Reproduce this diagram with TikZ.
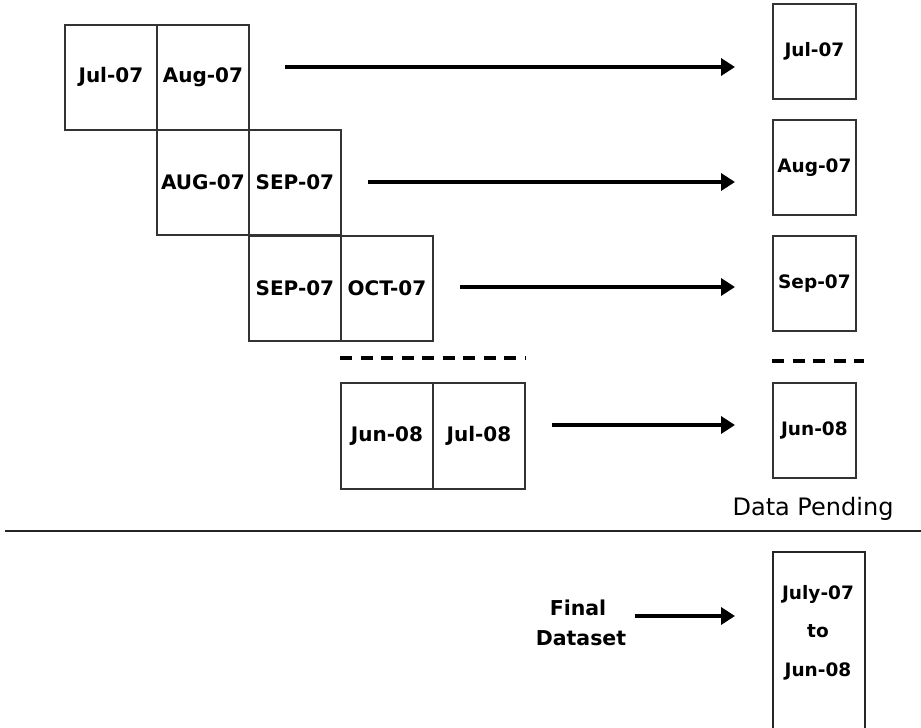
\documentclass[tikz,border=0pt]{standalone}
\usepackage{fontspec}
\setmainfont{DejaVu Sans}
\usetikzlibrary{arrows.meta}
\tikzset{
  cell/.style={draw=black!80, line width=1.8pt, minimum width=92pt, minimum height=105pt,
    inner sep=0pt, anchor=north west, font=\bfseries\fontsize{20}{24}\selectfont},
  outbox/.style={draw=black!80, line width=1.8pt, minimum width=83pt, minimum height=95pt,
    inner sep=0pt, anchor=north west, font=\bfseries\fontsize{18.5}{22}\selectfont},
  arr/.style={line width=3.6pt, -{Triangle[length=14pt,width=17pt]}},
  dashline/.style={line width=3.6pt, dash pattern=on 12pt off 8.5pt},
}
\begin{document}
\begin{tikzpicture}[x=1pt,y=-1pt]
\useasboundingbox (0,0) rectangle (921,728);
% left grid
\node[cell] (a1) at (64,24) {Jul-07};
\node[cell] (a2) at (156,24) {Aug-07};
\node[cell] (b1) at (156,129) {AUG-07};
\node[cell] (b2) at (248,129) {SEP-07};
\node[cell] (c1) at (248,235) {SEP-07};
\node[cell] (c2) at (340,235) {OCT-07};
\node[cell, minimum height=106pt] (d1) at (340,382) {Jun-08};
\node[cell, minimum height=106pt] (d2) at (432,382) {Jul-08};
% right boxes
\node[outbox] (r1) at (772,3) {Jul-07};
\node[outbox] (r2) at (772,119) {Aug-07};
\node[outbox] (r3) at (772,235) {Sep-07};
\node[outbox] (r4) at (772,382) {Jun-08};
% arrows
\coordinate (s1) at (285,67);  \coordinate (e1) at (735,67);
\coordinate (s2) at (368,182); \coordinate (e2) at (735,182);
\coordinate (s3) at (460,287); \coordinate (e3) at (735,287);
\coordinate (s4) at (552,425); \coordinate (e4) at (735,425);
\draw[arr] (s1) -- (e1);
\draw[arr] (s2) -- (e2);
\draw[arr] (s3) -- (e3);
\draw[arr] (s4) -- (e4);
% dashed lines
\coordinate (dl1) at (340,358); \coordinate (dl2) at (526,358);
\coordinate (dr1) at (772,361); \coordinate (dr2) at (864,361);
\draw[dashline] (dl1) -- (dl2);
\draw[dashline] (dr1) -- (dr2);
% data pending
\node[anchor=base, font=\fontsize{24}{28}\selectfont, inner sep=0pt] (dp) at (813,515) {Data Pending};
% separator
\coordinate (h1) at (5,531); \coordinate (h2) at (921,531);
\draw[line width=2.6pt, black!85] (h1) -- (h2);
% final
\node[draw=black!85, line width=1.8pt, minimum width=92pt, minimum height=200pt, inner sep=0pt, anchor=north west] (f) at (772,551) {};
\node[font=\bfseries\fontsize{18.5}{22}\selectfont, anchor=base, inner sep=0pt] (f1) at (818,599) {July-07};
\node[font=\bfseries\fontsize{18.5}{22}\selectfont, anchor=base, inner sep=0pt] (f2) at (818,637) {to};
\node[font=\bfseries\fontsize{18.5}{22}\selectfont, anchor=base, inner sep=0pt] (f3) at (818,676) {Jun-08};
\node[font=\bfseries\fontsize{20.5}{24}\selectfont, anchor=base, inner sep=0pt] (fd1) at (578,615) {Final};
\node[font=\bfseries\fontsize{20.5}{24}\selectfont, anchor=base, inner sep=0pt] (fd2) at (581,645) {Dataset};
\coordinate (sf) at (635,616); \coordinate (ef) at (735,616);
\draw[arr] (sf) -- (ef);
\end{tikzpicture}
\end{document}
